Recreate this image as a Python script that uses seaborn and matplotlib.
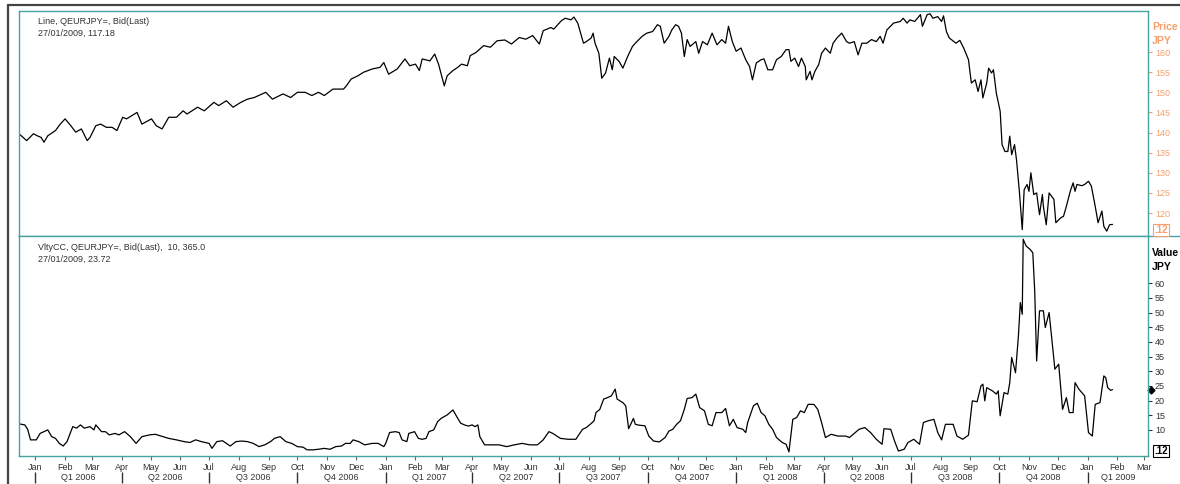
import pandas as pd
import matplotlib
matplotlib.use("Agg")
import matplotlib.pyplot as plt
import matplotlib.dates as mdates
import matplotlib.transforms as mtransforms
from matplotlib.lines import Line2D
import seaborn as sns

sns.set_style("white")
plt.rcParams['font.family'] = ['Liberation Sans', 'DejaVu Sans']

# ---------------------------------------------------------------
# Data (EUR/JPY bid and its 10-day volatility)
# ---------------------------------------------------------------
price_dates = [
    "2005-12-15", "2005-12-23", "2005-12-30", "2006-01-03", "2006-01-07", "2006-01-10", "2006-01-14", "2006-01-22", "2006-01-27",
    "2006-02-01", "2006-02-07", "2006-02-12", "2006-02-18", "2006-02-24", "2006-02-27", "2006-03-05", "2006-03-10", "2006-03-16", "2006-03-22", "2006-03-27",
    "2006-04-02", "2006-04-06", "2006-04-17", "2006-04-22", "2006-05-02", "2006-05-07", "2006-05-13", "2006-05-20", "2006-05-28",
    "2006-06-04", "2006-06-08", "2006-06-19", "2006-06-26", "2006-07-06", "2006-07-11", "2006-07-19", "2006-07-26",
    "2006-08-03", "2006-08-10", "2006-08-17", "2006-08-29", "2006-09-05", "2006-09-16", "2006-09-24",
    "2006-10-01", "2006-10-09", "2006-10-16", "2006-10-23", "2006-10-29", "2006-11-07", "2006-11-18", "2006-11-21", "2006-11-26",
    "2006-12-03", "2006-12-09", "2006-12-18", "2006-12-26", "2006-12-30",
    "2007-01-04", "2007-01-13", "2007-01-21", "2007-01-26", "2007-02-01", "2007-02-05", "2007-02-08", "2007-02-16", "2007-02-21", "2007-02-25",
    "2007-03-03", "2007-03-06", "2007-03-12", "2007-03-17", "2007-03-21", "2007-03-27", "2007-03-30",
    "2007-04-05", "2007-04-13", "2007-04-20", "2007-04-27", "2007-05-05", "2007-05-12", "2007-05-20", "2007-05-27",
    "2007-06-03", "2007-06-10", "2007-06-14", "2007-06-22", "2007-06-25", "2007-07-03", "2007-07-07", "2007-07-13", "2007-07-16", "2007-07-20", "2007-07-23", "2007-07-26", "2007-07-29",
    "2007-08-03", "2007-08-05", "2007-08-07", "2007-08-11", "2007-08-14", "2007-08-18", "2007-08-22", "2007-08-25", "2007-08-27",
    "2007-09-01", "2007-09-05", "2007-09-10", "2007-09-15", "2007-09-18", "2007-09-25", "2007-09-30",
    "2007-10-06", "2007-10-11", "2007-10-14", "2007-10-18", "2007-10-23", "2007-10-26", "2007-10-30",
    "2007-11-02", "2007-11-05", "2007-11-08", "2007-11-11", "2007-11-14", "2007-11-20", "2007-11-23", "2007-11-27",
    "2007-12-02", "2007-12-07", "2007-12-12", "2007-12-17", "2007-12-21", "2007-12-24", "2007-12-28",
    "2008-01-01", "2008-01-06", "2008-01-11", "2008-01-15", "2008-01-18", "2008-01-22", "2008-01-27", "2008-01-30",
    "2008-02-03", "2008-02-08", "2008-02-12", "2008-02-17", "2008-02-22", "2008-02-25", "2008-02-27",
    "2008-03-02", "2008-03-06", "2008-03-09", "2008-03-13", "2008-03-14", "2008-03-18", "2008-03-20", "2008-03-23", "2008-03-27", "2008-03-30",
    "2008-04-03", "2008-04-08", "2008-04-11", "2008-04-15", "2008-04-20", "2008-04-25", "2008-04-28",
    "2008-05-03", "2008-05-07", "2008-05-11", "2008-05-16", "2008-05-21", "2008-05-26", "2008-05-30",
    "2008-06-02", "2008-06-06", "2008-06-13", "2008-06-20", "2008-06-23", "2008-06-27", "2008-06-30",
    "2008-07-05", "2008-07-11", "2008-07-13", "2008-07-18", "2008-07-21", "2008-07-24", "2008-07-29",
    "2008-08-02", "2008-08-04", "2008-08-07", "2008-08-10", "2008-08-17", "2008-08-21", "2008-08-25", "2008-08-30",
    "2008-09-02", "2008-09-06", "2008-09-09", "2008-09-12", "2008-09-14", "2008-09-18", "2008-09-20", "2008-09-23", "2008-09-25", "2008-09-28",
    "2008-10-02", "2008-10-04", "2008-10-07", "2008-10-10", "2008-10-12", "2008-10-14", "2008-10-17", "2008-10-19", "2008-10-22", "2008-10-25", "2008-10-27", "2008-10-30",
    "2008-11-01", "2008-11-03", "2008-11-06", "2008-11-09", "2008-11-12", "2008-11-15", "2008-11-16", "2008-11-19", "2008-11-22", "2008-11-27", "2008-11-29",
    "2008-12-04", "2008-12-07", "2008-12-10", "2008-12-14", "2008-12-17", "2008-12-19", "2008-12-21", "2008-12-26", "2008-12-29",
    "2009-01-02", "2009-01-05", "2009-01-09", "2009-01-12", "2009-01-16", "2009-01-18", "2009-01-21", "2009-01-24", "2009-01-27",
]
price_values = [
    139.7, 138.0, 139.7, 139.2, 138.8, 137.6, 139.2, 140.5, 142.1,
    143.4, 141.7, 140.1, 140.9, 138.0, 138.8, 141.7, 142.1, 141.3, 141.3, 140.5,
    143.8, 143.4, 145.0, 142.1, 143.4, 141.7, 140.9, 143.8, 143.8,
    145.4, 144.6, 146.3, 145.4, 147.5, 146.7, 147.9, 146.3,
    147.5, 148.3, 148.7, 150.0, 148.3, 149.6, 148.7,
    150.0, 150.0, 149.2, 150.0, 149.2, 150.8, 150.8, 151.6, 153.3,
    154.1, 155.0, 155.8, 156.2, 157.4,
    154.5, 155.8, 158.3, 156.6, 157.0, 155.4, 158.3, 157.8, 159.5, 157.0,
    151.6, 154.1, 155.4, 156.2, 157.0, 156.6, 159.1,
    159.9, 161.6, 161.2, 162.8, 163.0, 162.0, 163.6, 163.2,
    164.1, 162.0, 165.3, 166.1, 165.7, 167.8, 168.4, 168.0, 168.7, 167.2, 164.7, 162.2, 162.6,
    163.5, 164.7, 162.2, 159.7, 153.5, 154.8, 158.5, 155.6, 158.9,
    157.7, 156.0, 158.9, 161.4, 162.2, 163.9, 164.7,
    165.1, 166.8, 166.4, 162.2, 163.9, 165.5, 166.8,
    166.4, 164.7, 158.9, 163.1, 161.4, 162.6, 159.7, 162.6,
    161.8, 164.7, 161.8, 163.1, 162.2, 166.4, 162.6,
    160.2, 161.0, 158.1, 156.4, 153.1, 157.3, 158.1, 158.3,
    155.6, 155.6, 158.1, 158.9, 160.6, 160.6, 157.7,
    158.5, 156.4, 158.5, 156.4, 153.1, 155.2, 153.1, 155.2, 156.9, 159.7,
    161.0, 159.7, 162.2, 163.5, 164.7, 162.6, 162.2,
    162.6, 159.3, 162.2, 162.2, 163.1, 162.6, 163.9,
    162.2, 165.5, 167.2, 167.6, 168.4, 167.2, 168.0,
    167.6, 169.3, 166.4, 169.3, 169.5, 168.4, 168.8,
    167.6, 169.0, 165.1, 163.5, 162.2, 162.9, 161.0, 158.1,
    152.3, 153.1, 150.2, 153.1, 148.6, 152.3, 156.0, 154.8, 155.6, 149.8,
    145.3, 137.0, 135.3, 135.3, 139.1, 134.5, 137.0, 133.3, 125.4, 115.9, 125.8, 127.1,
    125.4, 130.0, 124.6, 125.0, 119.6, 124.6, 121.7, 117.1, 125.0, 123.4, 117.6,
    118.8, 119.2, 121.7, 125.4, 127.5, 125.4, 127.1, 126.8, 127.1,
    127.9, 126.7, 121.7, 117.6, 120.5, 116.7, 115.5, 117.1, 117.18,
]

vol_dates = [
    "2005-12-16", "2005-12-21", "2005-12-24", "2005-12-27", "2006-01-02", "2006-01-06", "2006-01-10", "2006-01-14", "2006-01-18", "2006-01-22", "2006-01-26", "2006-01-30",
    "2006-02-03", "2006-02-05", "2006-02-09", "2006-02-13", "2006-02-17", "2006-02-21", "2006-02-27",
    "2006-03-03", "2006-03-05", "2006-03-11", "2006-03-15", "2006-03-19", "2006-03-25", "2006-03-29",
    "2006-04-04", "2006-04-10", "2006-04-16", "2006-04-22", "2006-04-30", "2006-05-06", "2006-05-12", "2006-05-20", "2006-05-28",
    "2006-06-05", "2006-06-11", "2006-06-17", "2006-06-23", "2006-07-01", "2006-07-04", "2006-07-09", "2006-07-15", "2006-07-19", "2006-07-23", "2006-07-29",
    "2006-08-04", "2006-08-10", "2006-08-16", "2006-08-22", "2006-08-28", "2006-09-03", "2006-09-07", "2006-09-13", "2006-09-19", "2006-09-25",
    "2006-10-01", "2006-10-07", "2006-10-11", "2006-10-17", "2006-10-23", "2006-10-29", "2006-11-04", "2006-11-10", "2006-11-16", "2006-11-20", "2006-11-25", "2006-11-28",
    "2006-12-04", "2006-12-10", "2006-12-18", "2006-12-24", "2006-12-30",
    "2007-01-01", "2007-01-05", "2007-01-11", "2007-01-15", "2007-01-18", "2007-01-23", "2007-01-25", "2007-01-31",
    "2007-02-04", "2007-02-08", "2007-02-12", "2007-02-15", "2007-02-20", "2007-02-24", "2007-02-28",
    "2007-03-06", "2007-03-12", "2007-03-16", "2007-03-20", "2007-03-24", "2007-03-28",
    "2007-04-01", "2007-04-04", "2007-04-07", "2007-04-09", "2007-04-14", "2007-04-21", "2007-04-29",
    "2007-05-07", "2007-05-15", "2007-05-23", "2007-05-31", "2007-06-08", "2007-06-14", "2007-06-20", "2007-06-24",
    "2007-07-02", "2007-07-10", "2007-07-18", "2007-07-25", "2007-07-29",
    "2007-08-02", "2007-08-06", "2007-08-08", "2007-08-12", "2007-08-16", "2007-08-20", "2007-08-24", "2007-08-28", "2007-08-30",
    "2007-09-05", "2007-09-08", "2007-09-11", "2007-09-16", "2007-09-18", "2007-09-22", "2007-09-28",
    "2007-10-02", "2007-10-07", "2007-10-13", "2007-10-19", "2007-10-23", "2007-10-27", "2007-10-31",
    "2007-11-04", "2007-11-08", "2007-11-11", "2007-11-16", "2007-11-20", "2007-11-24", "2007-11-29",
    "2007-12-03", "2007-12-07", "2007-12-11", "2007-12-17", "2007-12-21", "2007-12-25", "2007-12-29",
    "2008-01-02", "2008-01-08", "2008-01-11", "2008-01-13", "2008-01-19", "2008-01-23", "2008-01-27", "2008-01-31",
    "2008-02-04", "2008-02-08", "2008-02-12", "2008-02-18", "2008-02-22", "2008-02-25", "2008-02-29",
    "2008-03-04", "2008-03-08", "2008-03-12", "2008-03-16", "2008-03-22", "2008-03-26", "2008-03-30",
    "2008-04-03", "2008-04-09", "2008-04-16", "2008-04-24", "2008-04-28",
    "2008-05-04", "2008-05-08", "2008-05-14", "2008-05-20", "2008-05-26",
    "2008-06-01", "2008-06-03", "2008-06-10", "2008-06-14", "2008-06-18", "2008-06-24", "2008-06-28",
    "2008-07-04", "2008-07-10", "2008-07-14", "2008-07-19", "2008-07-25", "2008-07-29",
    "2008-08-02", "2008-08-06", "2008-08-14", "2008-08-18", "2008-08-24", "2008-08-30",
    "2008-09-03", "2008-09-08", "2008-09-12", "2008-09-14", "2008-09-16", "2008-09-18", "2008-09-24", "2008-09-28", "2008-09-30",
    "2008-10-02", "2008-10-06", "2008-10-10", "2008-10-12", "2008-10-14", "2008-10-18", "2008-10-21", "2008-10-23", "2008-10-25", "2008-10-26", "2008-10-29",
    "2008-11-02", "2008-11-05", "2008-11-07", "2008-11-09", "2008-11-12", "2008-11-16", "2008-11-18", "2008-11-22", "2008-11-28",
    "2008-12-02", "2008-12-06", "2008-12-10", "2008-12-13", "2008-12-17", "2008-12-19", "2008-12-23", "2008-12-29",
    "2009-01-02", "2009-01-06", "2009-01-09", "2009-01-14", "2009-01-18", "2009-01-20", "2009-01-22", "2009-01-25", "2009-01-27",
]
vol_values = [
    12.0, 11.7, 10.2, 6.6, 6.6, 8.8, 9.4, 10.0, 7.7, 7.1, 5.4, 4.5,
    6.0, 7.7, 11.1, 10.6, 11.7, 10.6, 11.1,
    10.0, 11.7, 9.4, 9.4, 8.3, 8.8, 8.3,
    9.4, 7.7, 5.4, 7.7, 8.3, 8.5, 7.9, 7.1, 6.6,
    6.0, 5.7, 6.6, 6.0, 5.4, 3.7, 6.0, 6.3, 5.4, 4.5, 6.0,
    6.2, 6.0, 5.4, 4.3, 4.9, 6.0, 7.1, 7.7, 6.0, 5.4,
    4.3, 4.1, 3.2, 3.2, 3.4, 3.7, 3.4, 4.3, 4.5, 5.4, 5.4, 6.6,
    6.0, 4.9, 5.4, 5.4, 4.3,
    5.4, 9.1, 9.4, 9.1, 6.6, 6.0, 8.8, 9.4,
    7.1, 6.8, 7.1, 9.4, 10.0, 12.8, 14.0,
    15.1, 16.8, 14.5, 12.3, 11.7, 11.3,
    11.7, 11.1, 11.7, 7.7, 4.9, 4.9, 4.9,
    4.3, 4.9, 5.4, 4.9, 4.9, 6.6, 9.4, 8.8,
    7.1, 6.8, 6.8, 10.2, 10.8,
    11.9, 13.1, 15.9, 17.0, 20.5, 21.0, 21.6, 23.9, 20.5,
    19.3, 18.2, 10.4, 13.9, 11.9, 11.6, 11.4,
    7.9, 6.2, 5.9, 7.4, 9.6, 10.2, 11.9,
    13.1, 17.0, 20.7, 21.0, 22.2, 17.6, 16.5,
    11.9, 11.4, 15.9, 15.9, 17.3, 11.4, 13.6,
    10.8, 10.2, 9.1, 12.5, 18.2, 19.1, 15.9, 14.8,
    11.9, 10.2, 7.4, 5.7, 5.1, 2.5, 13.6,
    14.2, 16.5, 15.9, 18.7, 18.7, 17.0, 12.5,
    7.4, 8.5, 7.9, 7.9, 7.4,
    9.1, 10.2, 10.8, 9.1, 6.8,
    5.1, 10.4, 10.2, 6.2, 2.8, 3.4, 5.7,
    6.8, 5.1, 12.5, 13.1, 13.6, 9.1,
    6.6, 11.9, 11.9, 7.9, 6.8, 8.2,
    19.9, 19.6, 25.0, 25.6, 19.9, 24.4, 23.3, 22.2, 23.3,
    14.8, 22.7, 22.2, 26.1, 34.7, 29.5, 42.0, 53.4, 49.4, 75.0, 72.7,
    71.6, 70.4, 57.4, 33.5, 50.6, 50.6, 44.9, 50.0, 30.7,
    32.4, 17.0, 21.0, 15.9, 15.9, 26.1, 23.9, 21.6,
    9.1, 7.9, 18.7, 19.3, 28.4, 27.8, 24.4, 23.5, 23.72,
]

price_ticks = [120, 125, 130, 135, 140, 145, 150, 155, 160]
vol_ticks = [10, 15, 20, 25, 30, 35, 40, 45, 50, 55, 60]
quarter_labels = ["Q1 2006", "Q2 2006", "Q3 2006", "Q4 2006",
                  "Q1 2007", "Q2 2007", "Q3 2007", "Q4 2007",
                  "Q1 2008", "Q2 2008", "Q3 2008", "Q4 2008", "Q1 2009"]

price_df = pd.DataFrame({"Date": pd.to_datetime(price_dates), "Price": price_values})
vol_df = pd.DataFrame({"Date": pd.to_datetime(vol_dates), "Vlty": vol_values})

teal = "#45a3a3"
orange = "#f5a06b"
ink = "#333333"

x_start = pd.Timestamp("2005-12-15")
x_end = pd.Timestamp("2009-03-05")

# ---------------------------------------------------------------
# Figure with two stacked panels
# ---------------------------------------------------------------
W, H = 1180, 484
fig = plt.figure(figsize=(W / 100, H / 100), dpi=100)


def panel(x0, y0, x1, y1):
    return [x0 / W, 1 - y1 / H, (x1 - x0) / W, (y1 - y0) / H]


ax1 = fig.add_axes(panel(19, 11, 1148, 236))
ax2 = fig.add_axes(panel(19, 236, 1148, 456), sharex=ax1)

sns.lineplot(data=price_df, x="Date", y="Price", ax=ax1, color="black",
             linewidth=0.9, estimator=None)
sns.lineplot(data=vol_df, x="Date", y="Vlty", ax=ax2, color="black",
             linewidth=0.9, estimator=None)

ax1.set_xlim(x_start, x_end)
ax1.set_ylim(114.3, 170.2)
ax2.set_ylim(1.1, 76.1)

for ax in (ax1, ax2):
    ax.set_xlabel("")
    ax.set_ylabel("")
    ax.yaxis.tick_right()
    for s in ax.spines.values():
        s.set_color(teal)
        s.set_linewidth(1.0)

ax1.set_yticks(price_ticks)
ax1.tick_params(axis="y", right=True, direction="out", length=3, width=0.8,
                pad=2, labelsize=6.5, color=orange, labelcolor=orange)
ax1.tick_params(axis="x", bottom=False, labelbottom=False)

ax2.set_yticks(vol_ticks)
ax2.tick_params(axis="y", right=True, direction="out", length=3, width=0.8,
                pad=2, labelsize=6.5, color=ink, labelcolor=ink)

# month ticks
ax2.xaxis.set_major_locator(mdates.MonthLocator())
ax2.xaxis.set_major_formatter(mdates.DateFormatter("%b"))
ax2.tick_params(axis="x", bottom=True, direction="out", length=3, width=0.8,
                pad=2, labelsize=6.5, color="#666666", labelcolor=ink)

# quarter row: separators at quarter starts, labels in between
q_starts = pd.date_range("2006-01-01", "2009-01-01", freq="QS")
q_edges = list(q_starts) + [x_end]
q_mids = [a + (b - a) / 2 for a, b in zip(q_edges[:-1], q_edges[1:])]
sec = ax2.secondary_xaxis(-16 / 220)
sec.spines["bottom"].set_visible(False)
sec.set_xticks(mdates.date2num(q_starts), labels=[""] * len(q_starts))
sec.set_xticks(mdates.date2num(q_mids), labels=quarter_labels, minor=True)
sec.tick_params(which="major", direction="out", length=8, width=1.0, color=ink)
sec.tick_params(which="minor", length=0, pad=0.5, labelsize=6.5, labelcolor=ink)

# last value marker on the volatility scale
trans = mtransforms.blended_transform_factory(ax2.transAxes, ax2.transData)
ax2.plot([1.003], [vol_values[-1]], transform=trans, marker="D", ms=3.5,
         color="black", clip_on=False)

# ---------------------------------------------------------------
# Panel captions and right-hand headings
# ---------------------------------------------------------------
fig.text(38 / W, 1 - 21 / H, "Line, QEURJPY=, Bid(Last)", fontsize=6.5, color=ink, va="center")
fig.text(38 / W, 1 - 33 / H, "27/01/2009, 117.18", fontsize=6.5, color=ink, va="center")
fig.text(38 / W, 1 - 247 / H, "VltyCC, QEURJPY=, Bid(Last),  10, 365.0", fontsize=6.5, color=ink, va="center")
fig.text(38 / W, 1 - 259 / H, "27/01/2009, 23.72", fontsize=6.5, color=ink, va="center")

fig.text(1152 / W, 1 - 27 / H, "Price", fontsize=7.5, fontweight="bold", color=orange, va="center")
fig.text(1152 / W, 1 - 41 / H, "JPY", fontsize=7.5, fontweight="bold", color=orange, va="center")
fig.text(1152 / W, 1 - 253 / H, "Value", fontsize=7.5, fontweight="bold", color="black", va="center")
fig.text(1152 / W, 1 - 267 / H, "JPY", fontsize=7.5, fontweight="bold", color="black", va="center")

fig.text(1154 / W, 1 - 230 / H, ".12", fontsize=7, fontweight="bold", color=orange, va="center",
         bbox=dict(boxstyle="square,pad=0.15", fc="white", ec=orange, lw=0.8))
fig.text(1154 / W, 1 - 451 / H, ".12", fontsize=7, fontweight="bold", color="black", va="center",
         bbox=dict(boxstyle="square,pad=0.15", fc="white", ec="black", lw=0.8))

# outer frame lines
fig.add_artist(Line2D([8 / W, 1], [1 - 5 / H, 1 - 5 / H], color="#444444", lw=1.6))
fig.add_artist(Line2D([8 / W, 8 / W], [0, 1 - 5 / H], color="#444444", lw=1.6))
fig.add_artist(Line2D([1148 / W, 1], [1 - 236 / H, 1 - 236 / H], color=teal, lw=1.0))

fig.savefig("out.png", dpi=100, facecolor="white")
